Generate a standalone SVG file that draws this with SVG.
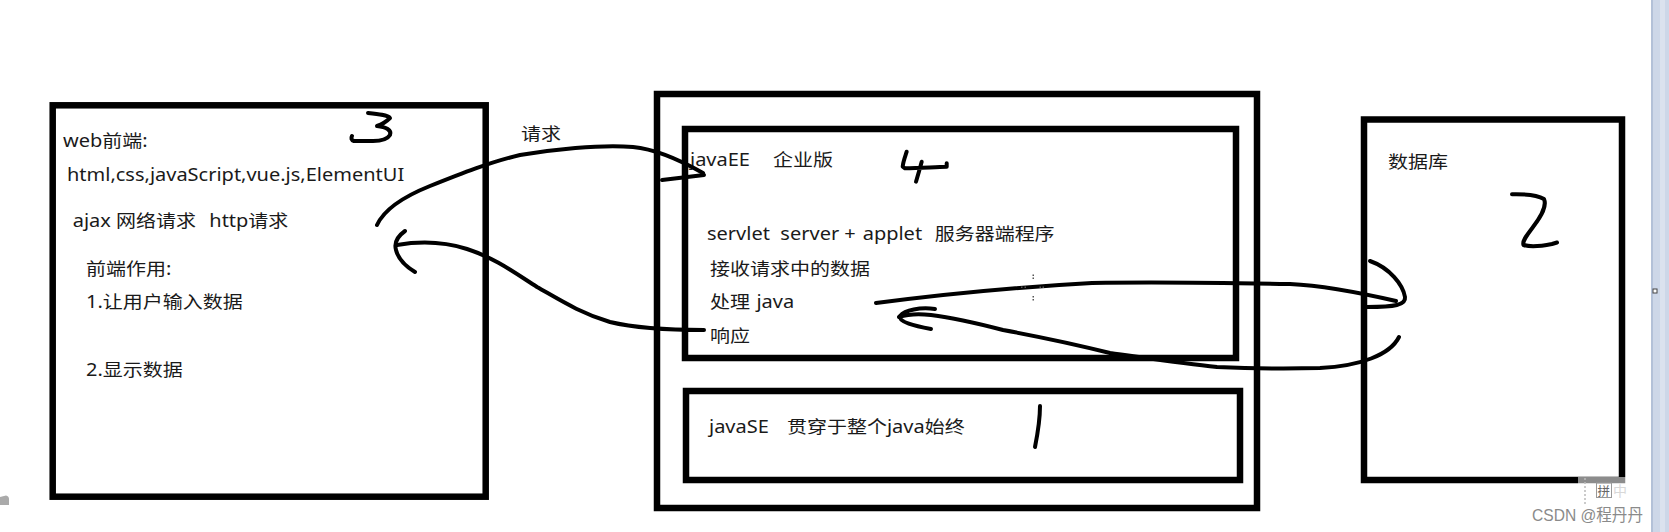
<svg xmlns="http://www.w3.org/2000/svg" width="1669" height="532" viewBox="0 0 1669 532" xml:space="preserve">
<style>
.box{fill:none;stroke:#000;stroke-width:6.5}
.hand{fill:none;stroke:#000;stroke-width:4;stroke-linecap:round;stroke-linejoin:round}
.t{font-family:"Noto Sans","Noto Sans CJK SC",sans-serif;font-size:17.5px;fill:#1a1a1a;white-space:pre}
</style>
<rect width="1669" height="532" fill="#fff"/>

<g id="frontend">
<rect class="box" x="52.7" y="105.3" width="433" height="391.4"/>
<text class="t" transform="translate(63 147) scale(1.143 1)">web前端:</text>
<text class="t" transform="translate(67 181) scale(1.143 1)">html,css,javaScript,vue.js,ElementUI</text>
<text class="t" transform="translate(72.7 227) scale(1.143 1)">ajax 网络请求   <tspan x="119.5">http请求</tspan></text>
<text class="t" transform="translate(86 275) scale(1.143 1)">前端作用:</text>
<text class="t" transform="translate(86 308) scale(1.143 1)">1.让用户输入数据</text>
<text class="t" transform="translate(86 376) scale(1.143 1)">2.显示数据</text>
<path class="hand" d="M368,113 C378,114 388,115 390,118 C386,122 380,125 377,126 C386,127 392,130 390,135 C387,140 378,141 373,141 L354,141 C351,140 351,138 352,136"/>
</g>

<g id="server">
<rect class="box" x="657" y="94" width="600" height="414"/>
</g>

<g id="javaee">
<rect class="box" x="685" y="129" width="551" height="229"/>
<text class="t" transform="translate(690 166) scale(1.143 1)">javaEE   <tspan x="72.6">企业版</tspan></text>
<text class="t" transform="translate(707 240) scale(1.143 1)">servlet  <tspan x="64.2">server + </tspan><tspan x="136.2">applet  </tspan><tspan x="199.2">服务器端程序</tspan></text>
<text class="t" transform="translate(710 275) scale(1.143 1)">接收请求中的数据</text>
<text class="t" transform="translate(710 308) scale(1.143 1)">处理 <tspan x="40.6">java</tspan></text>
<text class="t" transform="translate(710 342) scale(1.143 1)">响应</text>
<path class="hand" d="M906.7,151.7 C905,157 903,162 902.7,166.7 L905,168.3 C920,168 935,167 946.7,166.7 L946.7,163.3 M921.7,161.7 C920,168 918,175 916,181.7"/>
</g>

<g id="javase">
<rect class="box" x="686" y="391" width="554" height="89"/>
<text class="t" transform="translate(709 433) scale(1.143 1)">javaSE   <tspan x="68.2">贯穿于整个java始终</tspan></text>
<path class="hand" d="M1040,406 C1040,420 1038,432 1035,447"/>
</g>

<g id="database">
<rect class="box" x="1364" y="119.5" width="258" height="360.5"/>
<text class="t" transform="translate(1388 168) scale(1.143 1)">数据库</text>
<path class="hand" d="M1512,194.3 C1525,194 1537,195 1544,199 C1547,206 1542,215 1533,227 C1527,235 1522,241 1523.5,245 C1530,247 1542,246 1552,244 L1557,242.5"/>
</g>

<g id="connectors">
<text class="t" transform="translate(521 140) scale(1.143 1)">请求</text>
<path class="hand" d="M377,225 C383,212 400,198 430,186 C460,174 490,162 520,155 C550,150 600,144 633,147 C655,149 680,160 703,173"/>
<path class="hand" d="M662,180 L704,175"/>
<path class="hand" d="M704,330 C670,330 635,328 610,322 C580,313 560,300 537,287 C515,273 495,258 467,249 C445,242 420,241 397,245"/>
<path class="hand" d="M405,231 C398,236 394,243 396,250 C398,258 405,266 415,272"/>
<path class="hand" d="M876,303 C930,296 1000,288 1092,283 C1150,282 1235,283 1290,284 C1330,286 1370,295 1396,301"/>
<path class="hand" d="M1370,261 C1390,268 1403,285 1405,297 C1406,305 1395,307 1367,307"/>
<path class="hand" d="M1399,337 C1390,355 1360,366 1320,368 C1280,369 1240,368 1217,367 C1180,363 1140,357 1110,353 C1070,343 1030,335 1003,330 C980,324 955,318 931,315 C915,313 905,315 899,317"/>
<path class="hand" d="M935,309 C920,307 905,310 900,316 C898,322 915,326 931,329"/>
</g>

<g id="screen-artifacts">
<g fill="#555">
<rect x="1032.5" y="274.5" width="1.5" height="1.5"/><rect x="1032.5" y="277.5" width="1.5" height="1.5"/>
<rect x="1021" y="286.5" width="1.5" height="1.5"/><rect x="1024.5" y="286.5" width="1.5" height="1.5"/>
<rect x="1039.5" y="286.5" width="1.5" height="1.5"/><rect x="1042.5" y="286.5" width="1.5" height="1.5"/>
<rect x="1032.5" y="296" width="1.5" height="1.5"/><rect x="1032.5" y="299" width="1.5" height="1.5"/>
</g>
<rect x="1651" y="0" width="18" height="532" fill="#cdd7e8"/>
<rect x="1651" y="0" width="2" height="532" fill="#b3c1d8"/>
<rect x="1660" y="0" width="5" height="532" fill="#dbe2ee"/>
<rect x="1653" y="289" width="4" height="4" fill="#fff" stroke="#444" stroke-width="1"/>
<rect x="1578" y="477" width="73" height="30" fill="#fff" fill-opacity="0.55"/>
<line x1="1585" y1="478" x2="1585" y2="505" stroke="#bbb" stroke-width="1.5" stroke-dasharray="2 2"/>
<rect x="1596.5" y="483" width="15" height="14.5" fill="none" stroke="#999" stroke-width="1"/>
<text x="1597.5" y="495.5" font-family="Noto Sans CJK SC,sans-serif" font-size="12.5" fill="#666">拼</text>
<text x="1613" y="496" font-family="Noto Sans CJK SC,sans-serif" font-size="14" fill="#d8d8d8">中</text>
<path d="M0,497 L6,495.5 Q9,496 9,499 L9,505 L0,505 Z" fill="#aaa"/>
<text x="1532" y="521" font-family="Liberation Sans,Noto Sans CJK SC,sans-serif" font-size="16.5" fill="#8a8a8a" textLength="111" lengthAdjust="spacingAndGlyphs">CSDN @程丹丹</text>
</g>
</svg>
